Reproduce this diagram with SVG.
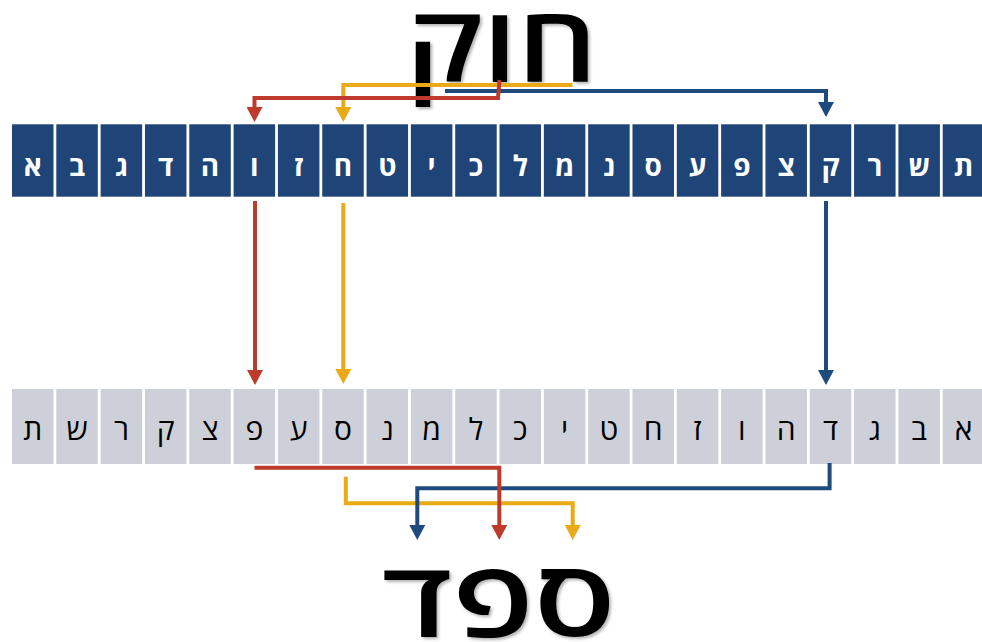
<svg xmlns="http://www.w3.org/2000/svg" width="982" height="642" viewBox="0 0 982 642">
<style>
.tc{fill:#1F4478}
.bc{fill:#CDD0D8}
.tt{fill:#FFFFFF;font-family:"Open Sans","DejaVu Sans",sans-serif;font-weight:bold;font-size:28px;text-anchor:middle}
.bt{fill:#000000;font-family:"Open Sans","DejaVu Sans",sans-serif;font-weight:normal;font-size:30px;text-anchor:middle}
.big{fill:#000000;font-family:"Open Sans","DejaVu Sans",sans-serif;font-weight:600;font-size:106px;text-anchor:middle}
.ln{fill:none;stroke-width:4;stroke-linejoin:miter}
.red{stroke:#BE3A2C}
.yel{stroke:#EAAA17}
.blu{stroke:#1F4A7E}
</style>
<defs>
<filter id="sh" x="-10%" y="-10%" width="130%" height="130%">
<feDropShadow dx="2" dy="2" stdDeviation="1.5" flood-color="#000" flood-opacity="0.3"/>
</filter>
<marker id="aR" viewBox="0 -8 15 16" refX="0" refY="0" markerWidth="15" markerHeight="16" markerUnits="userSpaceOnUse" orient="auto"><path d="M0,-8 L15,0 L0,8 z" fill="#BE3A2C"/></marker>
<marker id="aY" viewBox="0 -8 15 16" refX="0" refY="0" markerWidth="15" markerHeight="16" markerUnits="userSpaceOnUse" orient="auto"><path d="M0,-8 L15,0 L0,8 z" fill="#EAAA17"/></marker>
<marker id="aB" viewBox="0 -8 15 16" refX="0" refY="0" markerWidth="15" markerHeight="16" markerUnits="userSpaceOnUse" orient="auto"><path d="M0,-8 L15,0 L0,8 z" fill="#1F4A7E"/></marker>
</defs>
<rect width="982" height="642" fill="#FFFFFF"/>

<g id="word-top" filter="url(#sh)"><text class="big" x="501.5" y="82" font-size="110" textLength="192" lengthAdjust="spacingAndGlyphs">חוק</text></g>
<g id="word-bottom" filter="url(#sh)"><text class="big" x="498.5" y="637" textLength="234" lengthAdjust="spacingAndGlyphs">ספד</text></g>

<g id="top-row">
<g id="t0"><rect class="tc" x="12" y="124.3" width="41.5" height="72.4"/><text class="tt" x="32.75" y="176">א</text></g>
<g id="t1"><rect class="tc" x="56.32" y="124.3" width="41.5" height="72.4"/><text class="tt" x="77.07" y="176">ב</text></g>
<g id="t2"><rect class="tc" x="100.64" y="124.3" width="41.5" height="72.4"/><text class="tt" x="121.39" y="176">ג</text></g>
<g id="t3"><rect class="tc" x="144.96" y="124.3" width="41.5" height="72.4"/><text class="tt" x="165.71" y="176">ד</text></g>
<g id="t4"><rect class="tc" x="189.28" y="124.3" width="41.5" height="72.4"/><text class="tt" x="210.03" y="176">ה</text></g>
<g id="t5"><rect class="tc" x="233.6" y="124.3" width="41.5" height="72.4"/><text class="tt" x="254.35" y="176">ו</text></g>
<g id="t6"><rect class="tc" x="277.92" y="124.3" width="41.5" height="72.4"/><text class="tt" x="298.67" y="176">ז</text></g>
<g id="t7"><rect class="tc" x="322.24" y="124.3" width="41.5" height="72.4"/><text class="tt" x="342.99" y="176">ח</text></g>
<g id="t8"><rect class="tc" x="366.56" y="124.3" width="41.5" height="72.4"/><text class="tt" x="387.31" y="176">ט</text></g>
<g id="t9"><rect class="tc" x="410.88" y="124.3" width="41.5" height="72.4"/><text class="tt" x="431.63" y="176">י</text></g>
<g id="t10"><rect class="tc" x="455.2" y="124.3" width="41.5" height="72.4"/><text class="tt" x="475.95" y="176">כ</text></g>
<g id="t11"><rect class="tc" x="499.52" y="124.3" width="41.5" height="72.4"/><text class="tt" x="520.27" y="176">ל</text></g>
<g id="t12"><rect class="tc" x="543.84" y="124.3" width="41.5" height="72.4"/><text class="tt" x="564.59" y="176">מ</text></g>
<g id="t13"><rect class="tc" x="588.16" y="124.3" width="41.5" height="72.4"/><text class="tt" x="608.91" y="176">נ</text></g>
<g id="t14"><rect class="tc" x="632.48" y="124.3" width="41.5" height="72.4"/><text class="tt" x="653.23" y="176">ס</text></g>
<g id="t15"><rect class="tc" x="676.8" y="124.3" width="41.5" height="72.4"/><text class="tt" x="697.55" y="176">ע</text></g>
<g id="t16"><rect class="tc" x="721.12" y="124.3" width="41.5" height="72.4"/><text class="tt" x="741.87" y="176">פ</text></g>
<g id="t17"><rect class="tc" x="765.44" y="124.3" width="41.5" height="72.4"/><text class="tt" x="786.19" y="176">צ</text></g>
<g id="t18"><rect class="tc" x="809.76" y="124.3" width="41.5" height="72.4"/><text class="tt" x="830.51" y="176">ק</text></g>
<g id="t19"><rect class="tc" x="854.08" y="124.3" width="41.5" height="72.4"/><text class="tt" x="874.83" y="176">ר</text></g>
<g id="t20"><rect class="tc" x="898.4" y="124.3" width="41.5" height="72.4"/><text class="tt" x="919.15" y="176">ש</text></g>
<g id="t21"><rect class="tc" x="942.72" y="124.3" width="41.5" height="72.4"/><text class="tt" x="963.47" y="176">ת</text></g>
</g>

<g id="bottom-row">
<g id="b0"><rect class="bc" x="12" y="389" width="41.5" height="75"/><text class="bt" x="32.75" y="440">ת</text></g>
<g id="b1"><rect class="bc" x="56.32" y="389" width="41.5" height="75"/><text class="bt" x="77.07" y="440">ש</text></g>
<g id="b2"><rect class="bc" x="100.64" y="389" width="41.5" height="75"/><text class="bt" x="121.39" y="440">ר</text></g>
<g id="b3"><rect class="bc" x="144.96" y="389" width="41.5" height="75"/><text class="bt" x="165.71" y="440">ק</text></g>
<g id="b4"><rect class="bc" x="189.28" y="389" width="41.5" height="75"/><text class="bt" x="210.03" y="440">צ</text></g>
<g id="b5"><rect class="bc" x="233.6" y="389" width="41.5" height="75"/><text class="bt" x="254.35" y="440">פ</text></g>
<g id="b6"><rect class="bc" x="277.92" y="389" width="41.5" height="75"/><text class="bt" x="298.67" y="440">ע</text></g>
<g id="b7"><rect class="bc" x="322.24" y="389" width="41.5" height="75"/><text class="bt" x="342.99" y="440">ס</text></g>
<g id="b8"><rect class="bc" x="366.56" y="389" width="41.5" height="75"/><text class="bt" x="387.31" y="440">נ</text></g>
<g id="b9"><rect class="bc" x="410.88" y="389" width="41.5" height="75"/><text class="bt" x="431.63" y="440">מ</text></g>
<g id="b10"><rect class="bc" x="455.2" y="389" width="41.5" height="75"/><text class="bt" x="475.95" y="440">ל</text></g>
<g id="b11"><rect class="bc" x="499.52" y="389" width="41.5" height="75"/><text class="bt" x="520.27" y="440">כ</text></g>
<g id="b12"><rect class="bc" x="543.84" y="389" width="41.5" height="75"/><text class="bt" x="564.59" y="440">י</text></g>
<g id="b13"><rect class="bc" x="588.16" y="389" width="41.5" height="75"/><text class="bt" x="608.91" y="440">ט</text></g>
<g id="b14"><rect class="bc" x="632.48" y="389" width="41.5" height="75"/><text class="bt" x="653.23" y="440">ח</text></g>
<g id="b15"><rect class="bc" x="676.8" y="389" width="41.5" height="75"/><text class="bt" x="697.55" y="440">ז</text></g>
<g id="b16"><rect class="bc" x="721.12" y="389" width="41.5" height="75"/><text class="bt" x="741.87" y="440">ו</text></g>
<g id="b17"><rect class="bc" x="765.44" y="389" width="41.5" height="75"/><text class="bt" x="786.19" y="440">ה</text></g>
<g id="b18"><rect class="bc" x="809.76" y="389" width="41.5" height="75"/><text class="bt" x="830.51" y="440">ד</text></g>
<g id="b19"><rect class="bc" x="854.08" y="389" width="41.5" height="75"/><text class="bt" x="874.83" y="440">ג</text></g>
<g id="b20"><rect class="bc" x="898.4" y="389" width="41.5" height="75"/><text class="bt" x="919.15" y="440">ב</text></g>
<g id="b21"><rect class="bc" x="942.72" y="389" width="41.5" height="75"/><text class="bt" x="963.47" y="440">א</text></g>
</g>

<g id="connectors">
<path class="ln yel" d="M572.5,85 H343.3 V107" marker-end="url(#aY)"/>
<path class="ln blu" d="M445,91 H826 V102" marker-end="url(#aB)"/>
<path class="ln red" d="M499.5,80 L498,98 H254.5 V107" marker-end="url(#aR)"/>
<path class="ln red" d="M255,201 V370" marker-end="url(#aR)"/>
<path class="ln yel" d="M343.3,203 V369" marker-end="url(#aY)"/>
<path class="ln blu" d="M826,201 V370" marker-end="url(#aB)"/>
<path class="ln yel" d="M345.8,476.7 V503.3 H572.7 V525" marker-end="url(#aY)"/>
<path class="ln blu" d="M829.6,463 V488.3 H417.3 V525" marker-end="url(#aB)"/>
<path class="ln red" d="M254.5,467.7 H499.3 V525" marker-end="url(#aR)"/>
</g>
</svg>
